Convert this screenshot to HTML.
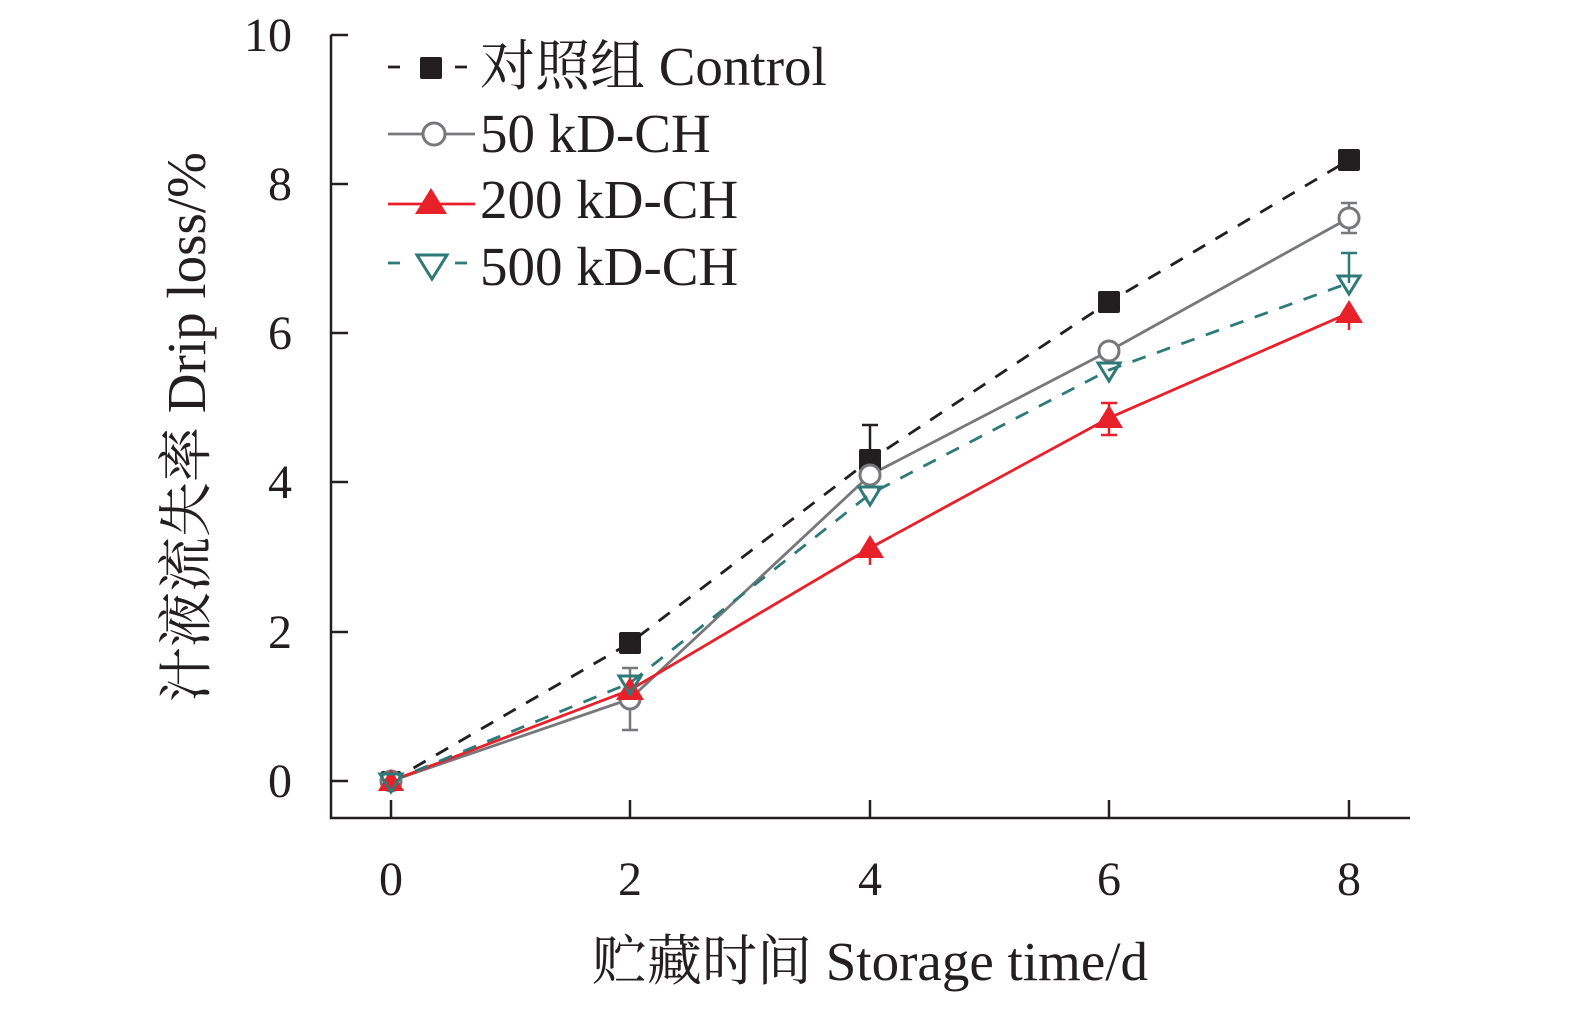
<!DOCTYPE html>
<html><head><meta charset="utf-8"><style>
html,body{margin:0;padding:0;background:#fff}
svg{display:block}
text{font-family:"Liberation Serif","Noto Serif CJK SC",serif;fill:#231f20}
</style></head><body>
<svg width="1575" height="1010" viewBox="0 0 1575 1010">
<g stroke="#231f20" stroke-width="2.5" fill="none">
<path d="M331,35 V818 H1410"/>
<path d="M331,35 H348 M331,184 H348 M331,333 H348 M331,482 H348 M331,632 H348 M331,781 H348"/>
<path d="M391,818 V800 M630,818 V800 M870,818 V800 M1109,818 V800 M1349,818 V800"/>
</g>
<g font-size="48" text-anchor="end">
<text x="292" y="51">10</text><text x="292" y="200">8</text><text x="292" y="349">6</text>
<text x="292" y="498">4</text><text x="292" y="648">2</text><text x="292" y="797">0</text>
</g>
<g font-size="48" text-anchor="middle">
<text x="391" y="895">0</text><text x="630" y="895">2</text><text x="870" y="895">4</text>
<text x="1109" y="895">6</text><text x="1349" y="895">8</text>
</g>
<text x="870" y="980" font-size="55" text-anchor="middle">贮藏时间 Storage time/d</text>
<text transform="translate(205,427) rotate(-90)" font-size="55" text-anchor="middle">汁液流失率 Drip loss/%</text>

<polyline points="391,781 630,643 870,460 1109,302 1349,160" fill="none" stroke="#231f20" stroke-width="2.8" stroke-dasharray="14,12"/>
<polyline points="391,781 630,699 870,475 1109,351 1349,218" fill="none" stroke="#77787b" stroke-width="2.8"/>
<polyline points="391,781 630,690 870,548 1109,418 1349,313" fill="none" stroke="#e8202a" stroke-width="2.8"/>
<polyline points="391,781 630,683 870,494 1109,370 1349,283" fill="none" stroke="#2e7a78" stroke-width="2.8" stroke-dasharray="14,12"/>

<g stroke-width="2.5" fill="none">
<path stroke="#231f20" d="M870,460 V425 M862,425 H878"/>
<path stroke="#77787b" d="M630,699 V730 M622,730 H638 M630,699 V668 M622,668 H638 M1349,218 V203 M1341,203 H1357 M1349,218 V233 M1341,233 H1357"/>
<path stroke="#e8202a" d="M1109,418 V435 M1101,435 H1117 M1109,418 V403 M1101,403 H1117 M870,548 V565 M1349,313 V330"/>
<path stroke="#2e7a78" d="M1349,283 V253 M1341,253 H1357"/>
</g>

<g fill="#231f20">
<rect x="381" y="771" width="20" height="20" rx="2"/>
<rect x="619" y="632" width="22" height="22" rx="2"/>
<rect x="859" y="449" width="22" height="22" rx="2"/>
<rect x="1098" y="291" width="22" height="22" rx="2"/>
<rect x="1338" y="149" width="22" height="22" rx="2"/>
</g>
<g fill="#fff" stroke="#77787b" stroke-width="3">
<circle cx="391" cy="781" r="10"/><circle cx="630" cy="699" r="10"/><circle cx="870" cy="475" r="10"/>
<circle cx="1109" cy="351" r="10"/><circle cx="1349" cy="218" r="10"/>
</g>
<g fill="#e8202a">
<path d="M391,769 L404,791 L378,791Z"/><path d="M630,677 L644,700 L616,700Z"/>
<path d="M870,535 L884,558 L856,558Z"/><path d="M1109,405 L1123,428 L1095,428Z"/>
<path d="M1349,300 L1363,323 L1335,323Z"/>
</g>
<g fill="none" stroke="#2e7a78" stroke-width="3">
<path d="M380,774 L402,774 L391,792Z"/><path d="M619,676 L641,676 L630,694Z"/>
<path d="M859,487 L881,487 L870,505Z"/><path d="M1098,363 L1120,363 L1109,381Z"/>
<path d="M1338,276 L1360,276 L1349,294Z"/>
</g>

<g stroke-width="2.8">
<path d="M388,67 H400 M455,67 H467" stroke="#231f20"/>
<rect x="420" y="57" width="22" height="22" rx="2" fill="#231f20"/>
<path d="M388,134 H422 M445,134 H475" stroke="#77787b"/>
<circle cx="434" cy="134" r="11" fill="#fff" stroke="#77787b" stroke-width="3"/>
<path d="M388,204 H475" stroke="#e8202a"/>
<path d="M431,188 L447,214 L415,214Z" fill="#e8202a"/>
<path d="M388,263 H400 M455,263 H467" stroke="#2e7a78"/>
<path d="M417,255 L447,255 L432,279Z" fill="none" stroke="#2e7a78" stroke-width="3"/>
</g>
<g font-size="55">
<text x="480" y="85">对照组 Control</text>
<text x="480" y="152">50 kD-CH</text>
<text x="480" y="218">200 kD-CH</text>
<text x="480" y="285">500 kD-CH</text>
</g>
</svg>
</body></html>
